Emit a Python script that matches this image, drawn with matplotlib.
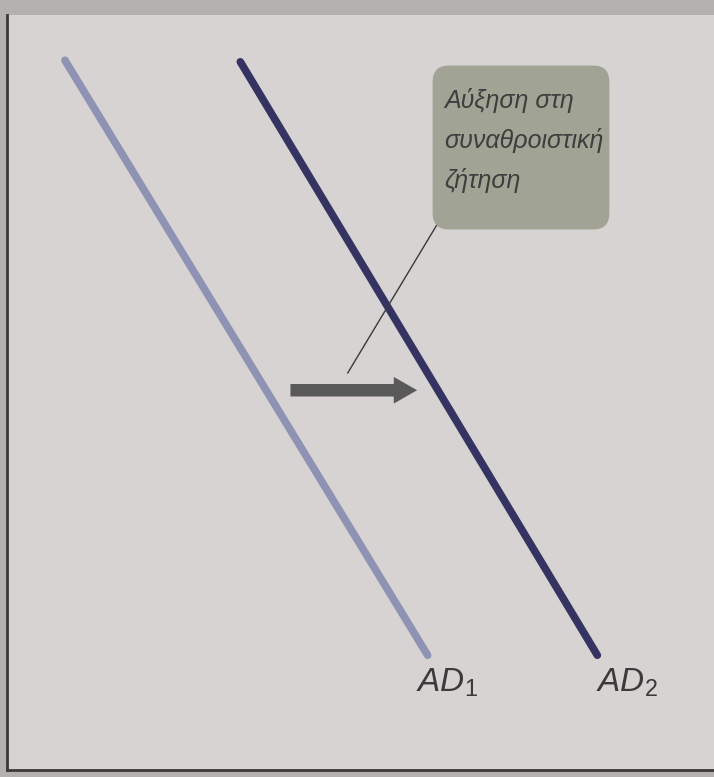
import matplotlib.pyplot as plt
from matplotlib.patches import FancyBboxPatch, FancyArrowPatch

plt.rcParams['font.family'] = ['Liberation Sans', 'DejaVu Sans']
plt.rcParams['mathtext.fontset'] = 'custom'
plt.rcParams['mathtext.it'] = 'Liberation Sans:italic'
plt.rcParams['mathtext.rm'] = 'Liberation Sans'

# demand curves (quantity, price) in axis units 0..10
ad1_x = [0.82, 5.95]
ad1_y = [9.40, 1.52]
ad2_x = [3.30, 8.35]
ad2_y = [9.38, 1.52]
curve_labels = ['$AD_\\mathrm{1}$', '$AD_\\mathrm{2}$']

# shift arrow and callout
shift_x = [3.97, 5.84]
shift_y = [5.03, 5.03]
leader_x = [4.82, 6.08]
leader_y = [5.26, 7.22]
callout_text = 'Αύξηση στη\nσυναθροιστική\nζήτηση'
callout_box = [6.02, 7.16, 2.5, 2.17]  # x, y, width, height

fig = plt.figure(figsize=(7.14, 7.77), dpi=100, facecolor='#b3b0ae')
ax = fig.add_axes([7 / 714, 7 / 777, 707 / 714, 755 / 777])
ax.set_facecolor('#d6d3d2')
ax.set_xlim(0, 10)
ax.set_ylim(0, 10)
ax.set_xticks([])
ax.set_yticks([])
for side in ['top', 'right']:
    ax.spines[side].set_visible(False)
for side in ['left', 'bottom']:
    ax.spines[side].set_color('#3a3838')
    ax.spines[side].set_linewidth(2)

ax.plot(ad1_x, ad1_y, color='#8e93b4', lw=5.5, solid_capstyle='round')
ax.plot(ad2_x, ad2_y, color='#353362', lw=5.5, solid_capstyle='round')

ax.text(ad1_x[1] - 0.17, ad1_y[1] - 0.15, curve_labels[0], fontsize=24,
        color='#3b3b3b', va='top', ha='left')
ax.text(ad2_x[1] - 0.02, ad2_y[1] - 0.15, curve_labels[1], fontsize=24,
        color='#3b3b3b', va='top', ha='left')

# callout box
bx, by, bw, bh = callout_box
box = FancyBboxPatch((bx, by), bw, bh, boxstyle='round,pad=0,rounding_size=0.22',
                     facecolor='#a1a495', edgecolor='none', zorder=3)
ax.add_patch(box)
ax.text(bx + 0.17, by + bh - 0.3, callout_text, fontsize=18, style='italic',
        color='#3e3e3e', va='top', ha='left', linespacing=1.75, zorder=4)

ax.plot(leader_x, leader_y, color='#3a3a3a', lw=1.0, zorder=2)

arrow = FancyArrowPatch((shift_x[0], shift_y[0]), (shift_x[1], shift_y[1]),
                        arrowstyle='simple,head_length=1.4,head_width=1.6,tail_width=0.75',
                        mutation_scale=12, color='#595959', lw=0, zorder=2)
ax.add_patch(arrow)

fig.savefig('out.png', dpi=100, facecolor=fig.get_facecolor())
